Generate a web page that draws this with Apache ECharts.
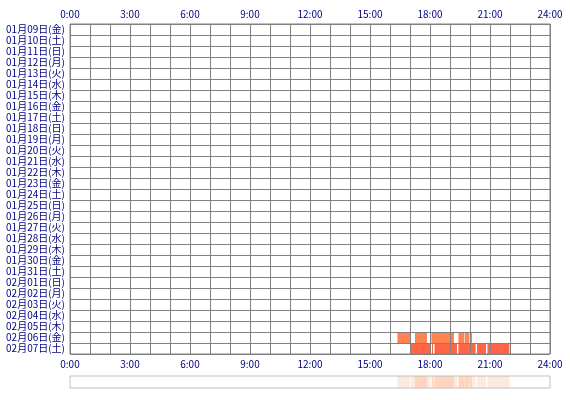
<!DOCTYPE html>
<html>
<head>
<meta charset="utf-8">
<script src="https://cdn.jsdelivr.net/npm/echarts@6/dist/echarts.min.js"></script>
<style>html,body{margin:0;padding:0;background:#fff}#c{width:570px;height:400px}</style>
</head>
<body>
<div id="c"></div>
<script>
// Day categories (top to bottom)
const days = [
  '01月09日(金)','01月10日(土)','01月11日(日)','01月12日(月)','01月13日(火)','01月14日(水)',
  '01月15日(木)','01月16日(金)','01月17日(土)','01月18日(日)','01月19日(月)','01月20日(火)',
  '01月21日(水)','01月22日(木)','01月23日(金)','01月24日(土)','01月25日(日)','01月26日(月)',
  '01月27日(火)','01月28日(水)','01月29日(木)','01月30日(金)','01月31日(土)','02月01日(日)',
  '02月02日(月)','02月03日(火)','02月04日(水)','02月05日(木)','02月06日(金)','02月07日(土)'
];
// Activity intervals (hours of day) per active day
const feb06 = [[16.37,17.0],[17.25,17.85],[18.07,19.2],[19.42,19.72],[19.75,19.95],[19.98,20.1]];
const feb07 = [[17.05,18.02],[18.1,18.15],[18.23,19.35],[19.42,20.28],[20.35,20.8],[20.87,21.97]];
const hourTicks = ['0:00','3:00','6:00','9:00','12:00','15:00','18:00','21:00','24:00'];

const dayColors = {'02月06日(金)':'#ff8251','02月07日(土)':'#ff6444'};

function rows(dayLabel, arr) {
  const idx = days.indexOf(dayLabel);
  return arr.map(a => ({value:[idx, a[0], a[1]], itemStyle:{color: dayColors[dayLabel]}}));
}
const barData = rows('02月06日(金)', feb06).concat(rows('02月07日(土)', feb07));
const stripData = barData.map(d => ({value:[0, d.value[1], d.value[2]]}));

function renderBar(params, api) {
  const c = api.value(0);
  const s = api.coord([api.value(1), c]);
  const e = api.coord([api.value(2), c]);
  const h = api.size([0, 1])[1];
  return {type:'rect', shape:{x:s[0], y:s[1]-h/2, width:e[0]-s[0], height:h},
          style:{fill: api.visual('color')}};
}
function renderStrip(params, api) {
  const s = api.coord([api.value(1), 0]);
  const e = api.coord([api.value(2), 0]);
  const h = api.size([0, 1])[1];
  return {type:'rect', shape:{x:s[0], y:s[1]-h/2, width:e[0]-s[0], height:h},
          style:{fill:'#ff8a50', opacity:0.2}};
}

const font = {fontFamily:'"Noto Sans CJK JP", sans-serif', fontSize:10, color:'#000080'};
const hourFmt = v => (v % 3 === 0) ? hourTicks[v/3] : '';

const chart = echarts.init(document.getElementById('c'), null, {renderer:'canvas'});
chart.setOption({
  animation:false,
  backgroundColor:'#fff',
  grid:[
    {left:70, top:24, width:480, height:330, show:true, borderColor:'#808080', borderWidth:1, backgroundColor:'transparent', z:5},
    {left:70, top:376, width:480, height:12, show:true, borderColor:'#c0c0c0', borderWidth:1, backgroundColor:'transparent', z:5}
  ],
  xAxis:[
    {gridIndex:0, type:'value', min:0, max:24, interval:1, position:'bottom', z:4,
     axisLine:{show:false}, axisTick:{show:false},
     splitLine:{show:true, lineStyle:{color:'#808080', width:1}},
     axisLabel:Object.assign({margin:5, formatter:hourFmt, showMinLabel:true, showMaxLabel:true}, font)},
    {gridIndex:0, type:'value', min:0, max:24, interval:1, position:'top', z:4,
     axisLine:{show:false}, axisTick:{show:false}, splitLine:{show:false},
     axisLabel:Object.assign({margin:5, formatter:hourFmt, showMinLabel:true, showMaxLabel:true}, font)},
    {gridIndex:1, type:'value', min:0, max:24, show:false}
  ],
  yAxis:[
    {gridIndex:0, type:'category', data:days, inverse:true, z:4,
     axisLine:{show:false}, axisTick:{show:false},
     splitLine:{show:true, interval:0, lineStyle:{color:'#808080', width:1}},
     axisLabel:Object.assign({interval:0, margin:5}, font)},
    {gridIndex:1, type:'category', data:['all'], show:false}
  ],
  series:[
    {type:'custom', xAxisIndex:0, yAxisIndex:0, renderItem:renderBar, encode:{x:[1,2], y:0}, data:barData, z:2},
    {type:'custom', xAxisIndex:2, yAxisIndex:1, renderItem:renderStrip, encode:{x:[1,2], y:0}, data:stripData, z:2}
  ]
});
</script>
</body>
</html>
